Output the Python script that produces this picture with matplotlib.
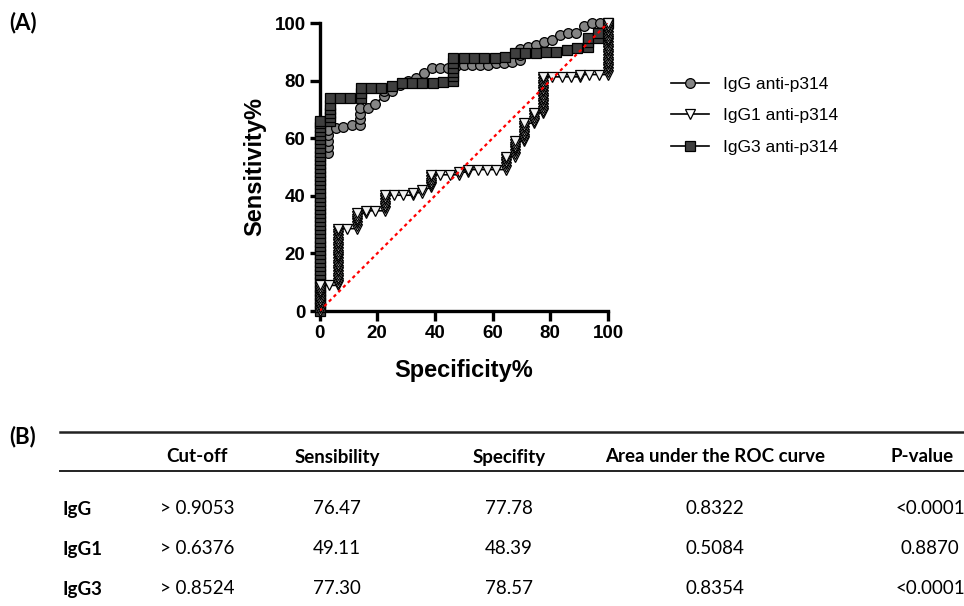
import matplotlib
matplotlib.use("Agg")
import matplotlib.pyplot as plt
from matplotlib.lines import Line2D

# ROC curve points (x = 100% - specificity, y = sensitivity)
igg_x = [0, 0, 0, 0,
         2.8, 2.8, 2.8, 2.8, 2.8,
         5.6, 8.3, 11.1, 13.9, 13.9, 13.9, 13.9,
         16.7, 19.4, 22.2, 22.2, 25.0, 27.8, 30.6, 33.3, 36.1, 38.9, 41.7, 44.4,
         47.2, 50.0, 52.8, 55.6, 58.3, 61.1, 63.9, 66.7, 69.4, 69.4, 69.4,
         72.2, 75.0, 77.8, 80.6, 83.3, 86.1, 88.9, 91.7, 94.4, 97.2, 100]
igg_y = [0, 20, 40, 54,
         55, 57, 59, 61, 63,
         63.5, 64, 64.5, 64.5, 66.5, 68.5, 70.5,
         70.5, 72, 74.5, 76.5, 76.5, 78.4, 80, 81, 82.5, 84.3, 84.3, 84.3,
         85, 85.5, 85.5, 85.5, 85.5, 86, 86, 86.5, 87, 89, 91,
         91.7, 92.4, 93.4, 94, 95.8, 96.5, 96.5, 99, 100, 100, 100]

igg1_x = [0, 0, 0, 0, 0, 0, 0, 0, 0, 0, 0,
          3.2,
          6.5, 6.5, 6.5, 6.5, 6.5, 6.5, 6.5, 6.5, 6.5, 6.5, 6.5, 6.5,
          6.5, 6.5, 6.5, 6.5, 6.5, 6.5, 6.5, 6.5, 6.5, 6.5, 6.5,
          9.7,
          12.9, 12.9, 12.9, 12.9, 12.9, 12.9, 12.9,
          16.1, 16.1, 19.4,
          22.6, 22.6, 22.6, 22.6, 22.6, 22.6, 22.6,
          25.8, 29.0, 32.3, 32.3, 35.5, 35.5,
          38.7, 38.7, 38.7, 38.7, 38.7, 38.7,
          41.9, 45.2, 48.4, 48.4, 51.6, 51.6, 54.8, 58.1, 61.3,
          64.5, 64.5, 64.5, 64.5, 64.5, 64.5,
          67.7, 67.7, 67.7, 67.7, 67.7, 67.7, 67.7,
          71.0, 71.0, 71.0, 71.0, 71.0, 71.0, 71.0, 71.0,
          74.2, 74.2, 74.2, 74.2, 74.2,
          77.4, 77.4, 77.4, 77.4, 77.4, 77.4, 77.4, 77.4, 77.4, 77.4, 77.4,
          77.4, 77.4, 77.4, 77.4,
          80.6, 83.9, 87.1, 90.3, 90.3, 93.5, 96.8,
          100, 100, 100, 100, 100, 100, 100, 100, 100, 100, 100,
          100, 100, 100, 100, 100, 100, 100, 100, 100, 100]
igg1_y = [0, 0.9, 1.8, 2.7, 3.6, 4.5, 5.4, 6.3, 7.1, 8.0, 8.9,
          8.9,
          8.9, 9.8, 10.7, 11.6, 12.5, 13.4, 14.3, 15.2, 16.1, 17.0, 17.9, 18.8,
          19.6, 20.5, 21.4, 22.3, 23.2, 24.1, 25.0, 25.9, 26.8, 27.7, 28.6,
          28.6,
          28.6, 29.5, 30.4, 31.3, 32.1, 33.0, 33.9,
          33.9, 34.8, 34.8,
          34.8, 35.7, 36.6, 37.5, 38.4, 39.3, 40.2,
          40.2, 40.2, 40.2, 41.1, 41.1, 42.0,
          42.9, 43.8, 44.6, 45.5, 46.4, 47.3,
          47.3, 47.3, 47.3, 48.2, 48.2, 49.1, 49.1, 49.1, 49.1,
          49.1, 50.0, 50.9, 51.8, 52.7, 53.6,
          53.6, 54.5, 55.4, 56.3, 57.1, 58.0, 58.9,
          58.9, 59.8, 60.7, 61.6, 62.5, 63.4, 64.3, 65.2,
          65.2, 66.1, 67.0, 67.9, 68.8,
          68.8, 69.6, 70.5, 71.4, 72.3, 73.2, 74.1, 75.0, 75.9, 76.8, 77.7,
          78.6, 79.5, 80.4, 81.3,
          81.3, 81.3, 81.3, 81.3, 82.1, 82.1, 82.1,
          82.1, 83.0, 83.9, 84.8, 85.7, 86.6, 87.5, 88.4, 89.3, 90.2, 91.1,
          92.0, 92.9, 93.8, 94.6, 95.5, 96.4, 97.3, 98.2, 99.1, 100]

igg3_x = [0] * 48 + [
          3.6, 3.6, 3.6, 3.6, 3.6, 3.6,
          7.1, 10.7, 14.3, 14.3, 14.3,
          17.9, 21.4, 25.0, 28.6, 32.1, 35.7, 39.3, 42.9,
          46.4, 46.4, 46.4, 46.4, 46.4, 46.4,
          50.0, 53.6, 57.1, 60.7, 64.3, 67.9, 71.4, 75.0, 78.6, 82.1, 85.7, 89.3,
          92.9, 92.9, 92.9, 96.4, 96.4, 100]
igg3_y = [0, 1.4, 2.8, 4.3, 5.7, 7.1, 8.5, 9.9, 11.3, 12.8, 14.2, 15.6,
          17.0, 18.4, 19.9, 21.3, 22.7, 24.1, 25.5, 27.0, 28.4, 29.8, 31.2, 32.6,
          34.0, 35.5, 36.9, 38.3, 39.7, 41.1, 42.6, 44.0, 45.4, 46.8, 48.2, 49.6,
          51.1, 52.5, 53.9, 55.3, 56.7, 58.2, 59.6, 61.0, 62.4, 63.8, 65.2, 66.0,
          66.0, 67.4, 68.8, 70.2, 71.6, 74.0,
          74.0, 74.0, 74.0, 75.6, 77.3,
          77.3, 77.3, 78.0, 79.2, 79.2, 79.2, 79.2, 79.5,
          80.0, 81.5, 83.0, 84.5, 86.0, 87.8,
          87.8, 87.8, 87.8, 87.8, 88.2, 89.6, 89.6, 89.6, 90.0, 90.0, 90.6, 91.3,
          91.7, 93.3, 94.8, 94.8, 96.5, 100]

series_names = ["IgG anti-p314", "IgG1 anti-p314", "IgG3 anti-p314"]

# table (B)
col_headers = ["Cut-off", "Sensibility", "Specifity", "Area under the ROC curve", "P-value"]
row_labels = ["IgG", "IgG1", "IgG3"]
cutoffs = ["> 0.9053", "> 0.6376", "> 0.8524"]
sensibility = ["76.47", "49.11", "77.30"]
specifity = ["77.78", "48.39", "78.57"]
auc = ["0.8322", "0.5084", "0.8354"]
pvalues = ["<0.0001", "0.8870", "<0.0001"]

W, H = 964, 606
fig = plt.figure(figsize=(W / 100, H / 100), dpi=100)

def fx(px):
    return px / W

def fy(py):
    return 1 - py / H

ax = fig.add_axes([fx(319.5), fy(311), fx(608) - fx(319.5), fy(23) - fy(311)])

styles = [
    dict(marker="o", mfc="#858585", ms=7, zorder=3),
    dict(marker="v", mfc="#f2f2f2", ms=7.5, zorder=5),
    dict(marker="s", mfc="#3f3f3f", ms=7, zorder=4),
]
data = [(igg_x, igg_y), (igg1_x, igg1_y), (igg3_x, igg3_y)]
for (xs, ys), st in zip(data, styles):
    ax.plot(xs, ys, color="black", lw=1.2, mec="black", mew=0.9,
            clip_on=False, **st)

ax.plot([0, 100], [0, 100], color="red", lw=1.6, ls=(0, (1.5, 1.5)), zorder=6)

ax.set_xlim(0, 100)
ax.set_ylim(0, 100)
ax.set_xticks([0, 20, 40, 60, 80, 100])
ax.set_yticks([0, 20, 40, 60, 80, 100])
for s in ["top", "right"]:
    ax.spines[s].set_visible(False)
for s in ["left", "bottom"]:
    ax.spines[s].set_linewidth(2.4)
ax.tick_params(width=2.4, length=7, labelsize=13.5, pad=3)
for lab in ax.get_xticklabels() + ax.get_yticklabels():
    lab.set_fontweight("bold")
    lab.set_family("Liberation Sans")
ax.set_xlabel("Specificity%", fontsize=17, fontweight="bold", family="Liberation Sans", labelpad=12)
ax.set_ylabel("Sensitivity%", fontsize=17, fontweight="bold", family="Liberation Sans", labelpad=6)

handles = [Line2D([], [], color="black", lw=1.2, mec="black", mew=0.9,
                  marker=st["marker"], mfc=st["mfc"], ms=st["ms"]) for st in styles]
handles[1].set_markerfacecolor("white")
fig.legend(handles, series_names, loc="upper left", bbox_to_anchor=(fx(655), fy(61)),
           frameon=False, prop={"family": "Liberation Sans", "size": 12.5},
           handlelength=2.2, labelspacing=0.95, handletextpad=0.8)

tfont = ["Lato", "Liberation Sans"]
fs = 13.5
fig.text(fx(9), fy(23), "(A)", fontsize=16, fontweight="bold", family=tfont, va="center")
fig.text(fx(9), fy(437), "(B)", fontsize=16, fontweight="bold", family=tfont, va="center")

fig.add_artist(Line2D([fx(60), 1], [fy(432), fy(432)], color="#222222", lw=1.8))
fig.add_artist(Line2D([fx(60), 1], [fy(471), fy(471)], color="#222222", lw=1.4))

col_x = [197, 337, 509, 715, 930]
head_x = [197, 337, 509, 715, 922]
for hx, h in zip(head_x, col_headers):
    fig.text(fx(hx), fy(457), h, fontsize=fs, fontweight="bold", family=tfont,
             ha="center", va="center")

row_y = [509, 549, 589]
columns = [cutoffs, sensibility, specifity, auc, pvalues]
for i, ry in enumerate(row_y):
    fig.text(fx(63), fy(ry), row_labels[i], fontsize=fs, fontweight="bold",
             family=tfont, ha="left", va="center")
    for cx, col in zip(col_x, columns):
        fig.text(fx(cx), fy(ry), col[i], fontsize=fs, family=tfont,
                 ha="center", va="center")

fig.savefig("out.png", dpi=100)
